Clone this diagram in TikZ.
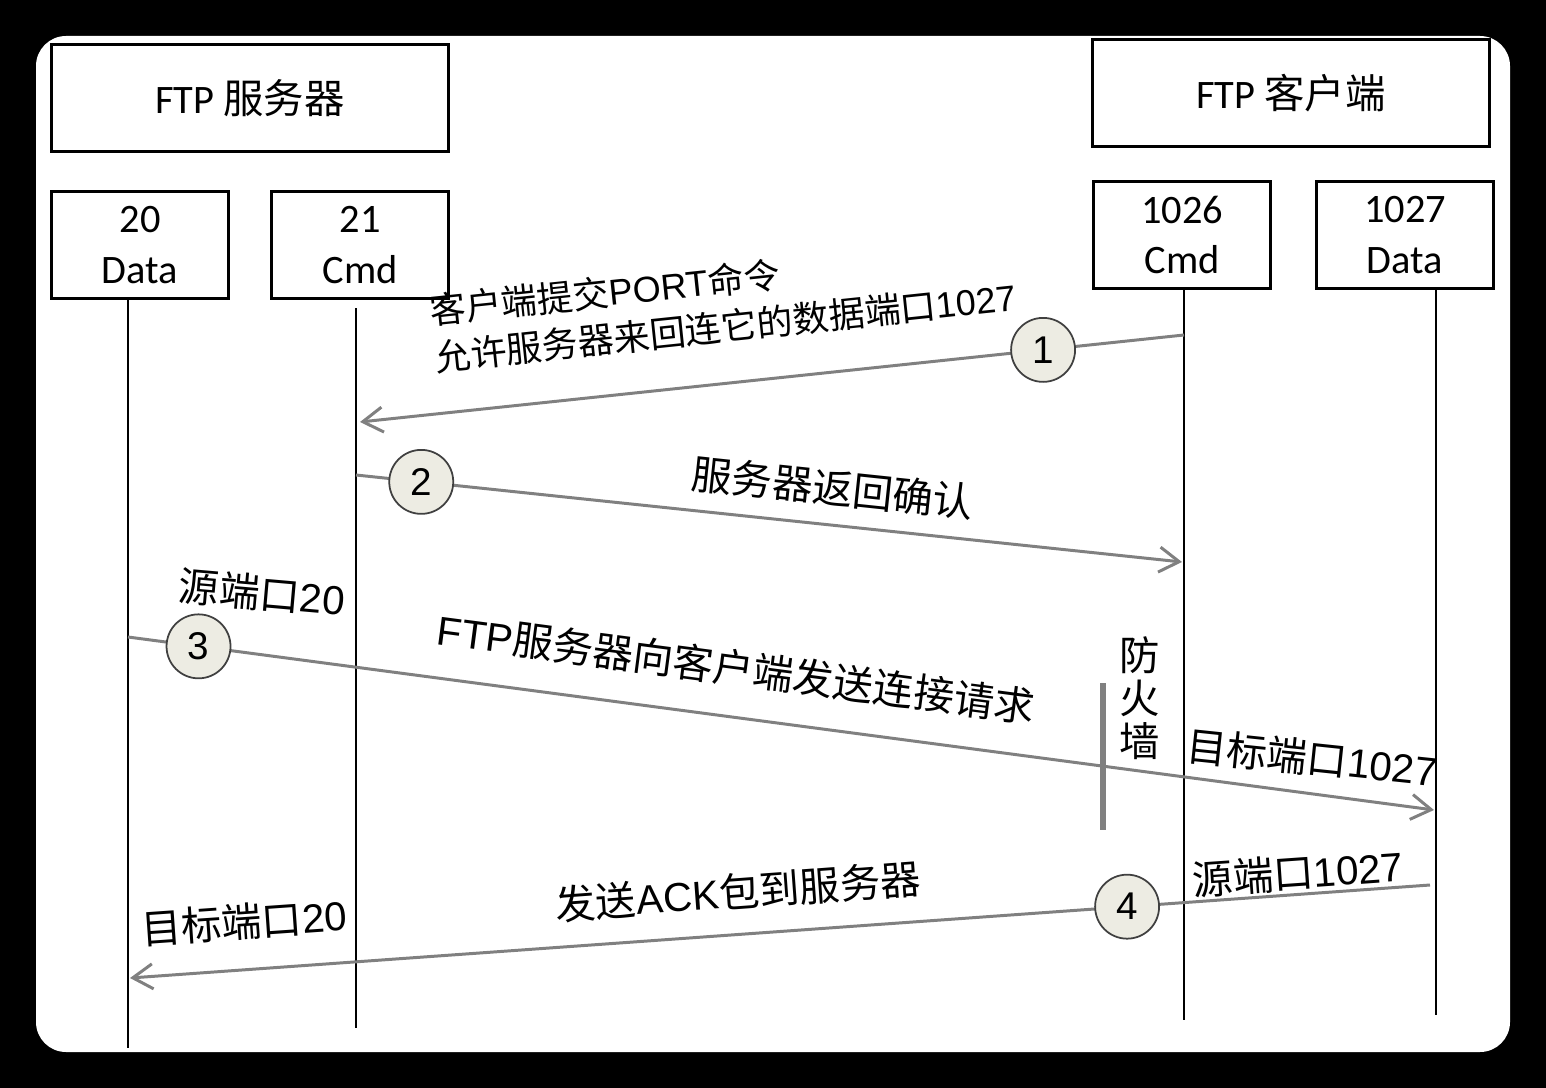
\documentclass[tikz,border=0pt]{standalone}
\usepackage{fontspec}
\setmainfont{Liberation Sans}
\newfontfamily\cjk{Noto Sans CJK SC}
\newfontfamily\boxfont{Carlito}
\usetikzlibrary{arrows.meta}
\newcommand{\zh}[1]{{\cjk #1}}
\definecolor{msggray}{HTML}{808080}
\definecolor{numfill}{HTML}{EDECE3}

\begin{document}
\begin{tikzpicture}[x=0.02cm, y=-0.02cm,
  box/.style={draw, line width=1.7pt, inner sep=0pt, align=center, font=\boxfont\fontsize{23}{29}\selectfont},
  host/.style={box, minimum width=7.94cm, minimum height=2.16cm},
  port/.style={box, minimum width=3.54cm, minimum height=2.14cm},
  life/.style={line width=0.9pt},
  msg/.style={draw=msggray, line width=1.7pt, -{Straight Barb[length=0.4cm,width=0.5cm]}},
  num/.style={circle, draw=black!75, fill=numfill, line width=1pt, minimum size=1.28cm, inner sep=0pt, font=\fontsize{22}{26}\selectfont},
  lbl/.style={inner sep=0pt, font=\fontsize{23}{28}\selectfont},
  wall/.style={draw=msggray, line width=3.4pt}]

% Background
\fill[black] (0,0) rectangle (1546,1088);
\fill[white, rounded corners=0.6cm] (36,36) rectangle (1510,1052);

% Hosts
\node[host] (srv) at (250,98) {FTP \zh{服务器}};
\node[host] (cli) at (1291,93) {FTP \zh{客户端}};

% Ports
\node[port] (p20) at (140,245) {20\\Data};
\node[port] (p21) at (360,245) {21\\Cmd};
\node[port] (p1026) at (1182,235) {1026\\Cmd};
\node[port] (p1027) at (1405,235) {1027\\Data};

% Lifelines
\coordinate (top20) at (128,299);   \coordinate (bot20) at (128,1048);
\coordinate (top21) at (356,308);   \coordinate (bot21) at (356,1028);
\coordinate (top1026) at (1184,289); \coordinate (bot1026) at (1184,1020);
\coordinate (top1027) at (1436,287); \coordinate (bot1027) at (1436,1015);
\foreach \p in {20,21,1026,1027}
  \draw[life] (top\p) -- (bot\p);

% Firewall
\coordinate (fwa) at (1103,683);
\coordinate (fwb) at (1103,830);
\draw[wall] (fwa) -- (fwb);
\node[lbl, align=center, font=\cjk\fontsize{23}{24.5}\selectfont] (fw) at (1140,698) {防\\火\\墙};

% Messages
\coordinate (m1s) at (1184,335); \coordinate (m1e) at (360,422);
\coordinate (m2s) at (356,475);  \coordinate (m2e) at (1182,562);
\coordinate (m3s) at (128,637);  \coordinate (m3e) at (1434,810);
\coordinate (m4s) at (1430,885); \coordinate (m4e) at (130,978);

\draw[msg] (m1s) -- node[num, pos=0.171] (n1) {1} (m1e);
\draw[msg] (m2s) -- node[num, pos=0.079] (n2) {2} (m2e);
\draw[msg] (m3s) -- node[num, pos=0.054] (n3) {3} (m3e);
\draw[msg] (m4s) -- node[num, pos=0.233] (n4) {4} (m4e);

% Labels
\node[lbl, font=\fontsize{20.5}{26.7}\selectfont, anchor=west, rotate=6, align=left] (t1) at (432,334)
  {\zh{客户端提交}PORT\zh{命令}\\\zh{允许服务器来回连它的数据端口}1027};
\node[lbl, rotate=-6] (t2) at (833,488) {\zh{服务器返回确认}};
\node[lbl, rotate=-5] (t3a) at (262,593) {\zh{源端口}20};
\node[lbl, rotate=-7.5] (t3) at (736,668) {FTP\zh{服务器向客户端发送连接请求}};
\node[lbl, rotate=-6] (t3b) at (1312,758) {\zh{目标端口}1027};
\node[lbl, rotate=4] (t4a) at (1298,873) {\zh{源端口}1027};
\node[lbl, rotate=4.2] (t4) at (738,892) {\zh{发送}ACK\zh{包到服务器}};
\node[lbl, rotate=4] (t4b) at (244,922) {\zh{目标端口}20};

\end{tikzpicture}
\end{document}
